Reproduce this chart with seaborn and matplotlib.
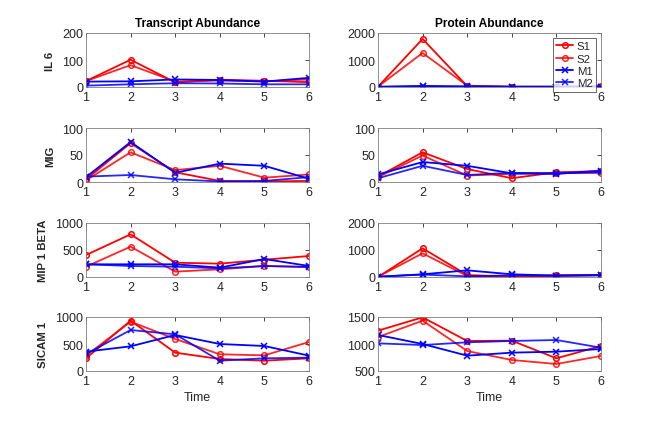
import matplotlib
matplotlib.use("Agg")
import matplotlib.pyplot as plt
import seaborn as sns
import numpy as np
import pandas as pd

time = [1, 2, 3, 4, 5, 6]
series_names = ["S1", "S2", "M1", "M2"]

# Transcript abundance
tr_il6_s1 = [22, 101, 17, 27, 23, 18]
tr_il6_s2 = [22, 81, 20, 24, 21, 28]
tr_il6_m1 = [20, 21, 28, 26, 20, 34]
tr_il6_m2 = [5, 10, 14, 13, 10, 10]

tr_mig_s1 = [5, 72, 18, 2, 1, 2]
tr_mig_s2 = [3, 55, 22, 30, 8, 14]
tr_mig_m1 = [9, 74, 17, 34, 30, 6]
tr_mig_m2 = [10, 13, 5, 1, 2, 9]

tr_mip_s1 = [407, 790, 265, 247, 320, 389]
tr_mip_s2 = [191, 562, 99, 142, 204, 185]
tr_mip_m1 = [235, 235, 235, 173, 333, 204]
tr_mip_m2 = [235, 204, 191, 160, 204, 185]

tr_sicam_s1 = [235, 932, 340, 222, 191, 235]
tr_sicam_s2 = [284, 914, 593, 309, 290, 537]
tr_sicam_m1 = [358, 457, 667, 500, 463, 284]
tr_sicam_m2 = [315, 759, 679, 191, 235, 247]

# Protein abundance
pr_il6_s1 = [10, 1780, 30, 5, 5, 20]
pr_il6_s2 = [15, 1260, 50, 10, 10, 15]
pr_il6_m1 = [5, 40, 20, 10, 10, 15]
pr_il6_m2 = [10, 20, 15, 10, 10, 10]

pr_mig_s1 = [10, 55, 24, 7, 18, 20]
pr_mig_s2 = [9, 49, 12, 15, 17, 17]
pr_mig_m1 = [14, 37, 30, 16, 15, 21]
pr_mig_m2 = [7, 30, 13, 17, 16, 18]

pr_mip_s1 = [0, 1062, 74, 12, 60, 70]
pr_mip_s2 = [10, 877, 37, 0, 50, 70]
pr_mip_m1 = [10, 100, 247, 100, 50, 70]
pr_mip_m2 = [10, 90, 25, 60, 50, 60]

pr_sicam_s1 = [1247, 1494, 1056, 1062, 735, 963]
pr_sicam_s2 = [1130, 1432, 870, 704, 630, 778]
pr_sicam_m1 = [1167, 1000, 784, 840, 858, 907]
pr_sicam_m2 = [1012, 981, 1031, 1056, 1074, 932]

row_labels = ["IL 6", "MIG", "MIP 1 BETA", "SICAM 1"]
col_titles = ["Transcript Abundance", "Protein Abundance"]

panels = [
    [(tr_il6_s1, tr_il6_s2, tr_il6_m1, tr_il6_m2), (pr_il6_s1, pr_il6_s2, pr_il6_m1, pr_il6_m2)],
    [(tr_mig_s1, tr_mig_s2, tr_mig_m1, tr_mig_m2), (pr_mig_s1, pr_mig_s2, pr_mig_m1, pr_mig_m2)],
    [(tr_mip_s1, tr_mip_s2, tr_mip_m1, tr_mip_m2), (pr_mip_s1, pr_mip_s2, pr_mip_m1, pr_mip_m2)],
    [(tr_sicam_s1, tr_sicam_s2, tr_sicam_m1, tr_sicam_m2), (pr_sicam_s1, pr_sicam_s2, pr_sicam_m1, pr_sicam_m2)],
]
yticks = [
    [[0, 100, 200], [0, 1000, 2000]],
    [[0, 50, 100], [0, 50, 100]],
    [[0, 500, 1000], [0, 1000, 2000]],
    [[0, 500, 1000], [500, 1000, 1500]],
]

sns.set_style("white")
plt.rcParams["font.family"] = ["Liberation Sans", "DejaVu Sans"]

styles = {
    "S1": dict(color="#ff0000", marker="o", alpha=1.0),
    "S2": dict(color="#ff0000", marker="o", alpha=0.85),
    "M1": dict(color="#0000ff", marker="x", alpha=1.0),
    "M2": dict(color="#0000ff", marker="x", alpha=0.85),
}

fig = plt.figure(figsize=(6.64, 4.31), dpi=100)
lefts = [86 / 664, 378 / 664]
width = 223 / 664
height = 54 / 431
bottoms = [1 - 88 / 431, 1 - 183 / 431, 1 - 278 / 431, 1 - 372 / 431]

axes = {}
for r in range(4):
    for c in range(2):
        ax = fig.add_axes([lefts[c], bottoms[r], width, height])
        axes[(r, c)] = ax
        for name, vals in zip(series_names, panels[r][c]):
            st = styles[name]
            sns.lineplot(x=time, y=vals, ax=ax, color=st["color"], alpha=st["alpha"],
                         marker=st["marker"], markersize=4,
                         markerfacecolor="none" if st["marker"] == "o" else st["color"],
                         markeredgecolor=st["color"], markeredgewidth=1.1,
                         linewidth=1.3, label=name, legend=False)
        ax.set_xlim(1, 6)
        yt = yticks[r][c]
        ax.set_ylim(yt[0], yt[-1])
        ax.set_yticks(yt)
        ax.set_xticks(time)
        ax.tick_params(direction="in", length=3, width=0.6, top=True, right=True,
                       labelsize=9, colors="#262626", pad=2)
        ax.tick_params(axis="x", pad=3)
        for sp in ax.spines.values():
            sp.set_color("#7f7f7f")
            sp.set_linewidth(0.6)
        ax.set_xlabel("")
        ax.set_ylabel("")
        if c == 0:
            ax.set_ylabel(row_labels[r], fontsize=8.2, fontweight="bold", color="#262626", labelpad=5)
        if r == 0:
            ax.set_title(col_titles[c], fontsize=8.6, fontweight="bold", color="#000000", pad=5)
        if r == 3:
            ax.set_xlabel("Time", fontsize=9, color="#262626", labelpad=3)

ax = axes[(0, 1)]
handles, labels = ax.get_legend_handles_labels()
leg = ax.legend(handles, labels, loc="upper right", bbox_to_anchor=(0.977, 0.907),
                fontsize=8.2, frameon=True, fancybox=False, borderpad=0.3,
                labelspacing=0.2, handlelength=1.5, handletextpad=0.3,
                borderaxespad=0)
leg.get_frame().set_edgecolor("#262626")
leg.get_frame().set_linewidth(0.6)

fig.savefig("out.png", dpi=100)
